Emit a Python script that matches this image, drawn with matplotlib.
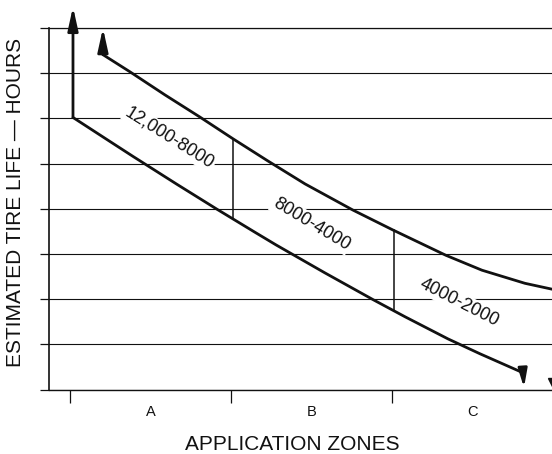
#!/usr/bin/env python3
"""Estimated tire life vs. application zone (redrawn line chart)."""
import matplotlib
matplotlib.use("Agg")
import matplotlib.pyplot as plt

plt.rcParams["font.family"] = ["Liberation Sans", "DejaVu Sans"]

INK = "#111111"

# zones along the x axis (boundaries at 0, 1, 2, 3)
ZONES = ["A", "B", "C"]
ZONE_TICKS = [0, 1, 2]

# y axis: grid levels, no numbers printed on the original
LEVELS = [0, 1, 2, 3, 4, 5, 6, 7, 8]

# lower band edge
LOW_X = [0.019, 0.248, 0.391, 0.665, 0.913, 1.149, 1.280, 1.584, 1.882, 2.081, 2.348, 2.547, 2.814]
LOW_Y = [6.02, 5.49, 5.16, 4.54, 3.99, 3.48, 3.20, 2.58, 1.99, 1.61, 1.12, 0.79, 0.37]
LOW_TOP = 8.47      # vertical arrow at the start of the lower edge
LOW_END = 0.04      # arrow tip at the end of the lower edge

# upper band edge
HIGH_X = [0.205, 0.373, 0.590, 0.807, 1.012, 1.224, 1.460, 1.758, 2.006, 2.335, 2.559, 2.826, 2.994]
HIGH_Y = [7.41, 7.03, 6.52, 6.03, 5.55, 5.07, 4.55, 3.97, 3.53, 2.97, 2.64, 2.35, 2.22]
HIGH_TOP = 8.0

# dividers between the zones, from lower edge to upper edge
DIV_X = [1.01, 2.01]
DIV_LOW = [3.79, 1.73]
DIV_HIGH = [5.52, 3.53]

# band labels
BANDS = ["12,000-8000", "8000-4000", "4000-2000"]
BAND_X = [0.62, 1.50, 2.42]
BAND_Y = [5.57, 3.66, 1.93]
BAND_ROT = [-32, -31, -27]

# stray arrow head cut by the right edge of the original
STRAY_X = 3.0
STRAY_Y = 0.15


def arrow(ax, base, tip, lw=2.0, scale=14, length=1.0):
    ax.annotate("", xy=tip, xytext=base, annotation_clip=False,
                arrowprops=dict(arrowstyle=f"-|>,head_length={length},head_width=0.22",
                                lw=lw, color=INK, shrinkA=0, shrinkB=0,
                                mutation_scale=scale))


def main():
    fig = plt.figure(figsize=(5.52, 4.54), dpi=100)
    ax = fig.add_axes([49 / 552, 64.5 / 454, 503 / 552, 361.5 / 454])
    ax.set_xlim(-0.13, 2.994)
    ax.set_ylim(0, 8)

    ax.spines["right"].set_visible(False)
    ax.spines["left"].set_linewidth(1.2)
    ax.spines["bottom"].set_linewidth(1.0)
    ax.spines["top"].set_linewidth(0.9)
    for side in ("left", "bottom", "top"):
        ax.spines[side].set_color(INK)

    ax.set_yticks(LEVELS)
    ax.set_yticklabels([])
    ax.set_xticks(ZONE_TICKS)
    ax.set_xticklabels([])
    ax.tick_params(axis="y", direction="out", length=6.5, width=0.9, color=INK)
    ax.tick_params(axis="x", direction="out", length=9.5, width=0.9, color=INK)
    ax.grid(True, axis="y", color=INK, linewidth=0.8)

    for i, zone in enumerate(ZONES):
        ax.text(ZONE_TICKS[0] + i + 0.5, -0.5, zone, ha="center", va="center",
                fontsize=10.5, color=INK, clip_on=False)

    ax.plot(LOW_X, LOW_Y, color=INK, lw=2.0, solid_capstyle="round", zorder=3)
    ax.plot(HIGH_X, HIGH_Y, color=INK, lw=2.0, solid_capstyle="round", zorder=3)
    arrow(ax, (LOW_X[0], LOW_Y[0]), (LOW_X[0], LOW_TOP))
    arrow(ax, (HIGH_X[0], HIGH_Y[0]), (HIGH_X[0], HIGH_TOP))
    arrow(ax, (LOW_X[-1], LOW_Y[-1]), (LOW_X[-1] + 0.006, LOW_END), scale=12, length=0.9)
    ax.plot([STRAY_X], [STRAY_Y], marker="v", markersize=7, color=INK, clip_on=True)

    for x, lo, hi in zip(DIV_X, DIV_LOW, DIV_HIGH):
        ax.plot([x, x], [lo, hi], color=INK, lw=1.1, zorder=3)

    for text, x, y, rot in zip(BANDS, BAND_X, BAND_Y, BAND_ROT):
        ax.text(x, y, text, rotation=rot, rotation_mode="anchor", ha="center", va="center",
                fontsize=13, color=INK, zorder=4,
                bbox=dict(facecolor="white", edgecolor="none", pad=1.0))

    fig.text(292 / 552, 1 - 444 / 454, "APPLICATION ZONES", ha="center", va="center",
             fontsize=15, color=INK)
    fig.text(16 / 552, 1 - 202 / 454, "ESTIMATED TIRE LIFE \u2014 HOURS", rotation=90,
             ha="center", va="center", fontsize=15, color=INK)

    fig.savefig("out.png", dpi=100)
    plt.close(fig)


if __name__ == "__main__":
    main()
